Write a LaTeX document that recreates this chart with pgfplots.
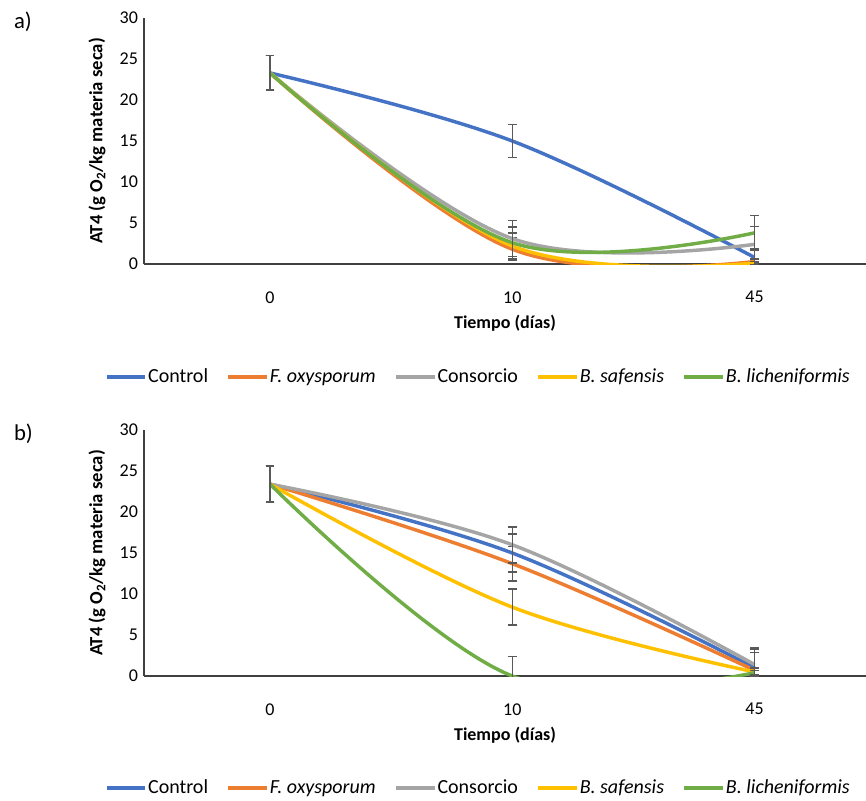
\documentclass[border=0pt]{standalone}
\usepackage{fontspec}
\setmainfont{Carlito}
\usepackage{pgfplots}
\pgfplotsset{compat=1.18}
\definecolor{cBlue}{HTML}{4472C4}
\definecolor{cOrange}{HTML}{ED7D31}
\definecolor{cGray}{HTML}{A5A5A5}
\definecolor{cYellow}{HTML}{FFC000}
\definecolor{cGreen}{HTML}{70AD47}
\definecolor{errcol}{HTML}{595959}
\definecolor{axiscol}{HTML}{404040}

\pgfplotsset{
  myaxis/.style={
    scale only axis, width=541.5pt, height=184.5pt,
    xmin=-0.52, xmax=2.46, ymin=0, ymax=30,
    xtick={0,1,2}, xticklabels={0,10,45},
    ytick={0,5,...,30},
    axis lines=left,
    axis line style={-, draw=axiscol, line width=1.1pt},
    major tick length=0pt,
    tick label style={font=\fontsize{13.5}{15}\selectfont, color=black},
    /pgf/number format/assume math mode=true,
    xticklabel style={yshift=-17pt},
    yticklabel style={xshift=-1pt},
    xlabel={Tiempo (días)},
    ylabel={AT4 (g O\textsubscript{2}/kg materia seca)},
    every axis x label/.style={at={(axis description cs:0.5,-0.24)},anchor=center,
      font=\bfseries\fontsize{13.5}{15}\selectfont},
    every axis y label/.style={at={(axis description cs:-0.065,0.5)},rotate=90,anchor=center,
      font=\bfseries\fontsize{14}{16}\selectfont},
    legend style={draw=none, fill=none, legend columns=5,
      font=\fontsize{15}{17}\selectfont,
      nodes={inner xsep=1pt},
      /tikz/every odd column/.append style={column sep=0pt},
      /tikz/every even column/.append style={column sep=13pt}},
    legend image code/.code={\draw[line width=2.4pt] (0pt,0pt) -- (29pt,0pt);},
    every axis plot/.append style={smooth, tension=0.6, line width=2.6pt, mark=none},
  },
  eb/.style={
    error bars/y dir=both, error bars/y explicit,
    error bars/error bar style={line width=1.1pt, draw=errcol, solid},
    error bars/error mark options={draw=errcol, line width=1.1pt, mark size=3.2pt, rotate=90}},
}

\begin{document}
\begin{tikzpicture}
\path[use as bounding box] (0pt,0pt) rectangle (649.5pt,-600pt);

\node[anchor=west, font=\fontsize{17}{19}\selectfont] at (7pt,-16.5pt) {a)};
\node[anchor=west, font=\fontsize{17}{19}\selectfont] at (7pt,-325.5pt) {b)};

% ---------- panel a ----------
\begin{axis}[myaxis, at={(108pt,-13.5pt)}, anchor=north west,
  legend style={at={(0.4626,-0.459)}, anchor=center}]
\addplot[cBlue, eb] table[x=x,y=y,y error=e] {
x y e
0 23.3 2.1
1 15.0 2.0
2 0.8 1.1
};
\addlegendentry{Control}
\addplot[cOrange, eb] table[x=x,y=y,y error=e] {
x y e
0 23.3 2.1
1 1.8 1.4
2 0.3 0.3
};
\addlegendentry{\textit{F. oxysporum}}
\addplot[cGray, eb] table[x=x,y=y,y error=e] {
x y e
0 23.3 2.1
1 3.1 2.2
2 2.4 2.2
};
\addlegendentry{Consorcio}
\addplot[cYellow, eb] table[x=x,y=y,y error=e] {
x y e
0 23.3 2.1
1 2.2 1.6
2 0.1 0.2
};
\addlegendentry{\textit{B. safensis}}
\addplot[cGreen, eb] table[x=x,y=y,y error=e] {
x y e
0 23.3 2.1
1 2.6 1.9
2 3.8 2.1
};
\addlegendentry{\textit{B. licheniformis}}
\end{axis}

% ---------- panel b ----------
\begin{axis}[myaxis, at={(108pt,-322.5pt)}, anchor=north west,
  legend style={at={(0.4626,-0.455)}, anchor=center}]
\addplot[cBlue, eb] table[x=x,y=y,y error=e] {
x y e
0 23.4 2.2
1 15.0 2.3
2 1.0 2.3
};
\addlegendentry{Control}
\addplot[cOrange, eb] table[x=x,y=y,y error=e] {
x y e
0 23.4 2.2
1 13.7 2.1
2 0.7 2.2
};
\addlegendentry{\textit{F. oxysporum}}
\addplot[cGray, eb] table[x=x,y=y,y error=e] {
x y e
0 23.4 2.2
1 16.0 2.2
2 1.4 2.1
};
\addlegendentry{Consorcio}
\addplot[cYellow, eb] table[x=x,y=y,y error=e] {
x y e
0 23.4 2.2
1 8.4 2.2
2 0.5 0.5
};
\addlegendentry{\textit{B. safensis}}
\addplot[cGreen, eb] table[x=x,y=y,y error=e] {
x y e
0 23.4 2.2
1 0.0 2.4
2 0.4 0.3
};
\addlegendentry{\textit{B. licheniformis}}
\end{axis}
\end{tikzpicture}
\end{document}
